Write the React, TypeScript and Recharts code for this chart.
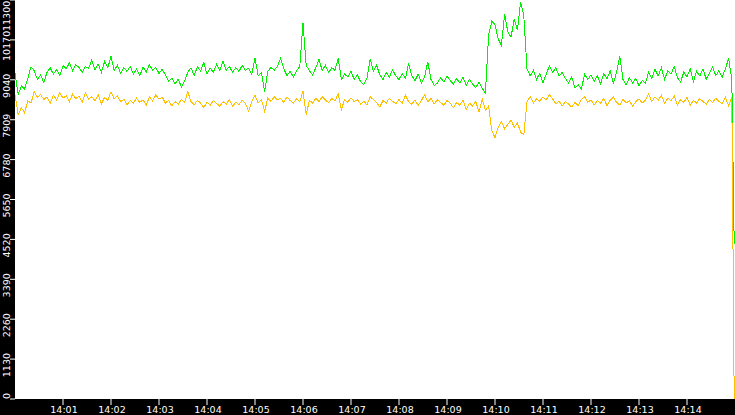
import React from 'react';
import { CartesianGrid, Line, LineChart, XAxis, YAxis } from 'recharts';

// one sample every 4 s from 14:00:00, last sample at 14:14:59
const SAMPLE_SECONDS = 4;
const LAST_SECOND = 899;

const greenValues = [
  9220, 8620, 8870, 8780, 9080, 9410, 9300, 9050, 9180, 8960,
  9250, 9380, 9200, 9330, 9160, 9440, 9350, 9520, 9300, 9460,
  9390, 9250, 9420, 9360, 9600, 9330, 9480, 9250, 9560, 9380,
  9700, 9300, 9450, 9230, 9380, 9280, 9420, 9200, 9350, 9150,
  9400, 9260, 9470, 9310, 9390, 9220, 9340, 9180, 9000, 9090,
  8920, 9060, 8840, 9010, 9250, 9380, 9160, 9410, 9290, 9530,
  9200, 9370, 9260, 9480, 9300, 9560, 9310, 9420, 9250, 9390,
  9280, 9450, 9310, 9370, 9200, 9650, 9150, 9250, 8700, 9280,
  9390, 9310, 9420, 9650, 9350, 9160, 9280, 9120, 9300, 9420,
  10650, 9450, 9300, 9180, 9380, 9620, 9300, 9450, 9250, 9380,
  9310, 9650, 9050, 9200, 9120, 9280, 9050, 9180, 8980, 8900,
  9080, 9620, 9280, 9450, 9180, 9050, 9250, 9120, 9320, 9150,
  9050, 9220, 9080, 9500, 9150, 9020, 9200, 8950, 9120, 9550,
  9050, 8880, 8950, 9100, 8980, 9150, 9020, 8920, 9080, 8950,
  9120, 8880, 9050, 8920, 8820, 8980, 8800, 8660, 10300, 10700,
  10600, 10200, 10020, 10900, 10400, 10250, 10750, 10450, 11250, 10850,
  9350, 9150, 9300, 9050, 9230, 8960, 9200, 9430, 9250, 9380,
  9150, 9250, 9080, 8950, 9120, 8800, 8900, 8780, 9200, 9050,
  9180, 9000, 9150, 8920, 9220, 9060, 9300, 8950, 9250, 9700,
  9050, 8900, 9100, 8950, 9080, 8870, 9020, 8950, 9250, 9080,
  9330, 9150, 9380, 9050, 9300, 9200, 9420, 9100, 8980, 9260,
  9120, 9350, 8990, 9280, 9150, 9340, 9060, 9230, 9400, 9160,
  9300, 9120, 9350, 9650, 9050,
  4400,
];

const yellowValues = [
  8620, 8050, 8250, 8100, 8450, 8380, 8700, 8550, 8620, 8480,
  8560, 8380, 8600, 8470, 8680, 8520, 8590, 8420, 8630, 8510,
  8570, 8400, 8660, 8490, 8560, 8450, 8620, 8360, 8540, 8460,
  8700, 8500, 8580, 8420, 8490, 8330, 8450, 8380, 8520, 8400,
  8470, 8320, 8560, 8440, 8610, 8490, 8550, 8380, 8460, 8300,
  8420, 8350, 8480, 8400, 8700, 8420, 8330, 8460, 8380, 8250,
  8410, 8320, 8450, 8370, 8290, 8420, 8350, 8480, 8300, 8400,
  8340, 8460, 8380, 8150, 8420, 8600, 8380, 8480, 8150, 8520,
  8430, 8560, 8470, 8520, 8400, 8560, 8450, 8380, 8500, 8420,
  8720, 8050, 8460, 8380, 8520, 8420, 8560, 8470, 8390, 8510,
  8440, 8650, 8200, 8480, 8400, 8530, 8420, 8480, 8350, 8440,
  8330, 8560, 8480, 8400, 8270, 8450, 8380, 8520, 8430, 8360,
  8480, 8380, 8600, 8420, 8350, 8470, 8310, 8450, 8620, 8420,
  8510, 8360, 8470, 8400, 8320, 8450, 8380, 8250, 8400, 8320,
  8460, 8200, 8380, 8300, 8430, 8120, 8500, 8180, 8300, 7600,
  7400, 7700, 7850, 7650, 7780, 7900, 7700, 7820, 7560, 7480,
  8420, 8560, 8380, 8500, 8430, 8560, 8470, 8620, 8500, 8360,
  8440, 8300, 8420, 8350, 8270, 8400, 8310, 8480, 8560, 8400,
  8470, 8330, 8450, 8380, 8520, 8300, 8460, 8550, 8400, 8330,
  8490, 8380, 8450, 8290, 8420, 8500, 8380, 8460, 8650, 8420,
  8560, 8460, 8600, 8380, 8520, 8450, 8580, 8330, 8480, 8400,
  8550, 8320, 8460, 8380, 8510, 8420, 8350, 8480, 8400, 8520,
  8430, 8360, 8540, 8300, 8560,
  0,
];

const yTicks = [0, 1130, 2260, 3390, 4520, 5650, 6780, 7909, 9040, 10170, 11300];
const xTicks = [60, 120, 180, 240, 300, 360, 420, 480, 540, 600, 660, 720, 780, 840];

const data = greenValues.map((g, i) => ({
  t: i === greenValues.length - 1 ? LAST_SECOND : i * SAMPLE_SECONDS,
  green: g,
  yellow: yellowValues[i],
}));

const FONT = '"DejaVu Sans", sans-serif';

const minuteLabel = (sec: number) => `14:${String(Math.round(sec / 60)).padStart(2, '0')}`;

const XTick = (props: any) => {
  const { x, payload } = props;
  return (
    <text x={x + 1} y={413} textAnchor="middle" fill="#fff" fontSize={9.5} fontFamily={FONT}>
      {minuteLabel(payload.value)}
    </text>
  );
};

// rotated labels sit a little below their tick; the end ones are pushed inside the plot height
const YTick = (props: any) => {
  const { y, payload } = props;
  let anchor = 'middle';
  let pos = y + 6;
  if (payload.value === 0) {
    anchor = 'start';
    pos = 399;
  } else if (payload.value === 11300) {
    anchor = 'start';
    pos = 31;
  }
  return (
    <text
      transform={`translate(9.5, ${pos}) rotate(-90)`}
      textAnchor={anchor}
      fill="#fff"
      fontSize={9.5}
      fontFamily={FONT}
    >
      {payload.value}
    </text>
  );
};

const App: React.FC = () => {
  return (
    <div style={{ position: 'absolute', left: 0, top: 0, width: 735, height: 415, background: '#000' }}>
      <LineChart width={735} height={415} data={data} margin={{ top: 0, right: 0, left: 0, bottom: 0 }}>
        <CartesianGrid fill="#fff" fillOpacity={1} horizontal={false} vertical={false} />
        <XAxis
          dataKey="t"
          type="number"
          domain={[0, 900]}
          ticks={xTicks}
          height={16}
          tickSize={6}
          axisLine={false}
          tickLine={{ stroke: '#fff' }}
          tick={<XTick />}
          interval={0}
        />
        <YAxis
          type="number"
          domain={[0, 11300]}
          ticks={yTicks}
          width={15}
          tickSize={5}
          axisLine={false}
          tickLine={{ stroke: '#fff' }}
          tick={<YTick />}
          interval={0}
          allowDataOverflow
        />
        <Line
          type="linear"
          dataKey="green"
          stroke="#00f000"
          strokeWidth={1}
          dot={false}
          activeDot={false}
          isAnimationActive={false}
          style={{ shapeRendering: 'crispEdges' }}
        />
        <Line
          type="linear"
          dataKey="yellow"
          stroke="#ffc000"
          strokeWidth={1}
          dot={false}
          activeDot={false}
          isAnimationActive={false}
          style={{ shapeRendering: 'crispEdges' }}
        />
      </LineChart>
    </div>
  );
};

export default App;
